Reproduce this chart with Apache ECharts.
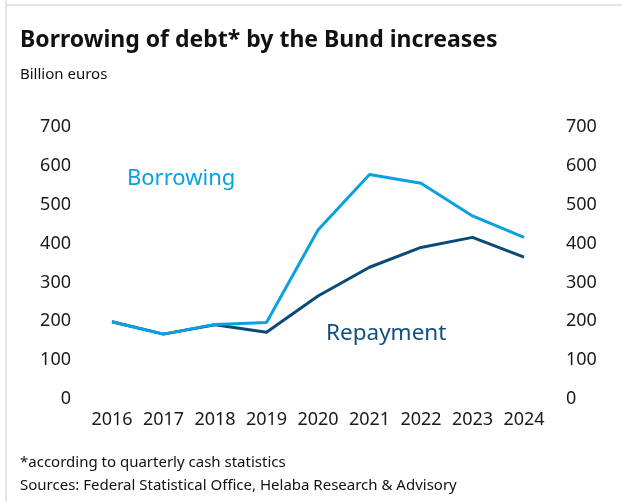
<!DOCTYPE html>
<html>
<head>
<meta charset="utf-8">
<script src="https://cdn.jsdelivr.net/npm/echarts@6/dist/echarts.min.js"></script>
<style>
  html, body { margin: 0; padding: 0; background: #fff; }
  #chart { width: 622px; height: 502px; }
</style>
</head>
<body>
<div id="chart"></div>
<script>
// Federal debt borrowing vs. repayment, billion euros
const years = ['2016', '2017', '2018', '2019', '2020', '2021', '2022', '2023', '2024'];
const borrowing = [199, 167, 192, 197, 435, 578, 555, 471, 416];
const repayment = [199, 167, 191, 172, 265, 339, 390, 416, 365];
const yTicks = [0, 100, 200, 300, 400, 500, 600, 700];

const FONT = 'Noto Sans';
const chart = echarts.init(document.getElementById('chart'), null, { renderer: 'canvas' });

const yAxisBase = {
  type: 'value',
  min: yTicks[0],
  max: yTicks[yTicks.length - 1],
  interval: yTicks[1] - yTicks[0],
  axisLine: { show: false },
  axisTick: { show: false },
  splitLine: { show: false },
  axisLabel: { color: '#1a1a1a', fontSize: 18, fontFamily: FONT, margin: 41 }
};

chart.setOption({
  animation: false,
  backgroundColor: '#ffffff',
  textStyle: { fontFamily: FONT },
  grid: { left: 112, right: 98, top: 127, height: 272, containLabel: false },
  xAxis: {
    type: 'category',
    data: years,
    boundaryGap: false,
    axisLine: { show: false },
    axisTick: { show: false },
    axisLabel: { color: '#1a1a1a', fontSize: 18, fontFamily: FONT, margin: 12, interval: 0, hideOverlap: false }
  },
  yAxis: [
    Object.assign({}, yAxisBase, { position: 'left' }),
    Object.assign({}, yAxisBase, { position: 'right', axisLabel: Object.assign({}, yAxisBase.axisLabel, { margin: 42 }) })
  ],
  series: [
    {
      name: 'Repayment',
      type: 'line',
      data: repayment,
      symbol: 'none',
      lineStyle: { color: '#0b4a76', width: 3 },
      z: 2
    },
    {
      name: 'Borrowing',
      type: 'line',
      data: borrowing,
      symbol: 'none',
      lineStyle: { color: '#0aa0e2', width: 3 },
      z: 3
    }
  ],
  graphic: [
    // frame
    { type: 'line', shape: { x1: 6, y1: 0, x2: 6, y2: 502 }, style: { stroke: '#e4e4e4', lineWidth: 2 } },
    { type: 'line', shape: { x1: 6, y1: 5, x2: 622, y2: 5 }, style: { stroke: '#e4e4e4', lineWidth: 2 } },
    // headings
    { type: 'text', left: 20, top: 29, style: { text: 'Borrowing of debt* by the Bund increases', fill: '#111', font: 'bold 23px "Noto Sans"' } },
    { type: 'text', left: 20, top: 67, style: { text: 'Billion euros', fill: '#111', font: '15px "Noto Sans"' } },
    // series captions
    { type: 'text', left: 127, top: 168, style: { text: 'Borrowing', fill: '#0aa0e2', font: '22px "Noto Sans"' } },
    { type: 'text', left: 326, top: 322, style: { text: 'Repayment', fill: '#124f7e', font: '22.5px "Noto Sans"' } },
    // footnotes
    { type: 'text', left: 20, top: 455, style: { text: '*according to quarterly cash statistics', fill: '#111', font: '15px "Noto Sans"' } },
    { type: 'text', left: 20, top: 478, style: { text: 'Sources: Federal Statistical Office, Helaba Research & Advisory', fill: '#111', font: '15px "Noto Sans"' } }
  ]
});
</script>
</body>
</html>
